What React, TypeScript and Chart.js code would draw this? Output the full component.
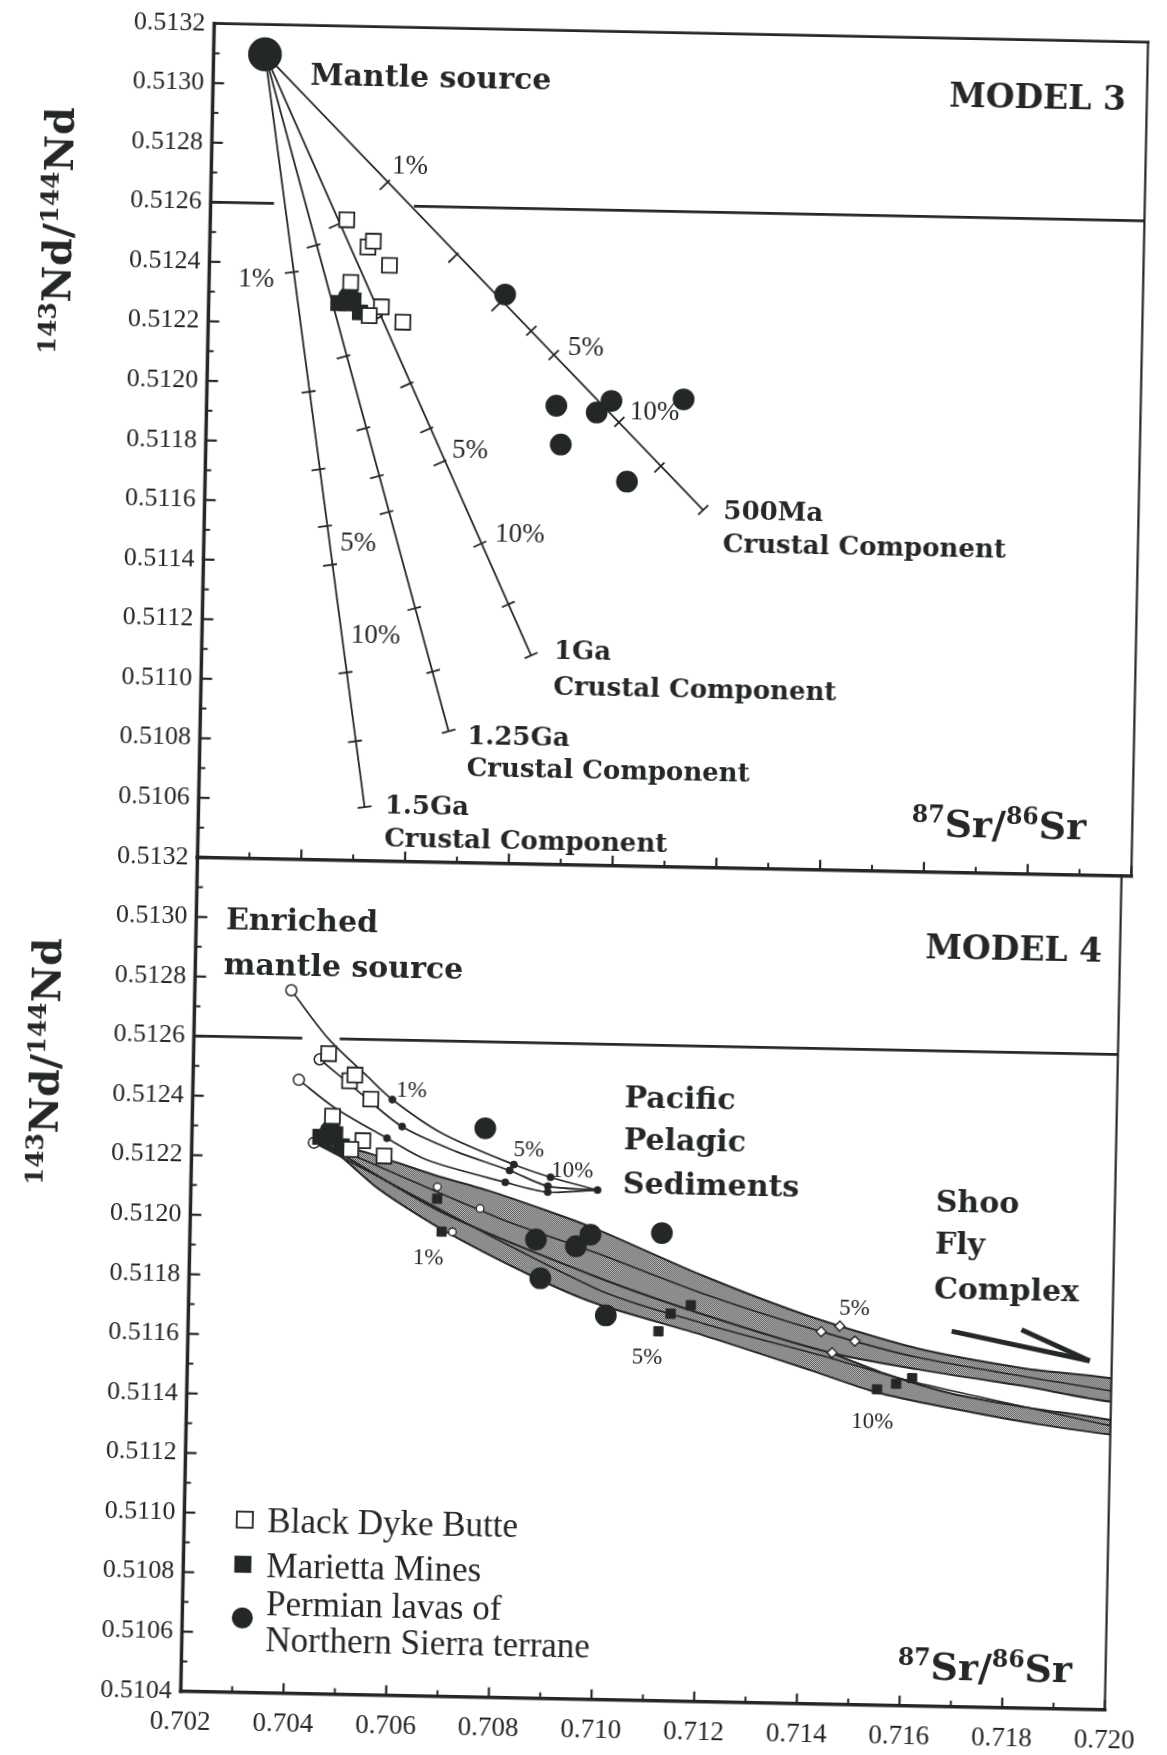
import React, { useEffect, useRef } from 'react';
import { Chart, registerables } from 'chart.js';

Chart.register(...registerables);

const INK = '#232726';
const SERIF = '"Liberation Serif", "Times New Roman", serif';
const BOLD_SERIF = '"DejaVu Serif", "Liberation Serif", serif';

// ---------------- axes ----------------
const X_MIN = 0.702;
const X_MAX = 0.72;
const X_TICKS = [0.702, 0.704, 0.706, 0.708, 0.71, 0.712, 0.714, 0.716, 0.718, 0.72];
const X_MINOR = [0.703, 0.705, 0.707, 0.709, 0.711, 0.713, 0.715, 0.717, 0.719];
const Y_MIN = 0.5104;
const Y_MAX = 0.5132;
const Y_TICKS = [0.5104, 0.5106, 0.5108, 0.511, 0.5112, 0.5114, 0.5116, 0.5118, 0.512, 0.5122, 0.5124, 0.5126, 0.5128, 0.513, 0.5132];
const Y_MINOR = [0.5105, 0.5107, 0.5109, 0.5111, 0.5113, 0.5115, 0.5117, 0.5119, 0.5121, 0.5123, 0.5125, 0.5127, 0.5129, 0.5131];

// ---------------- samples (both panels) ----------------
const BLACK_DYKE_BUTTE = [
  { x: 0.70463, y: 0.51255 }, { x: 0.70505, y: 0.51246 }, { x: 0.70515, y: 0.51248 }, { x: 0.70547, y: 0.5124 },
  { x: 0.70473, y: 0.51234 }, { x: 0.70533, y: 0.51226 }, { x: 0.7051, y: 0.51223 }, { x: 0.70575, y: 0.51221 },
];
const MARIETTA_MINES = [
  { x: 0.7045, y: 0.51227 }, { x: 0.70465, y: 0.51227 }, { x: 0.70479, y: 0.51228 }, { x: 0.70492, y: 0.51224 },
];
const PERMIAN_LAVAS = [
  { x: 0.7047, y: 0.51229 }, { x: 0.70771, y: 0.51231 }, { x: 0.70874, y: 0.51194 }, { x: 0.70884, y: 0.51181 },
  { x: 0.70952, y: 0.51192 }, { x: 0.7098, y: 0.51196 }, { x: 0.71013, y: 0.51169 }, { x: 0.71119, y: 0.51197 },
];

// ---------------- MODEL 3 (mixing lines: source, % ticks, crustal end-member) ----------------
const MANTLE_SOURCE = [{ x: 0.70299, y: 0.5131 }];
const MIX_15GA = [
  { x: 0.70299, y: 0.5131 }, { x: 0.70359, y: 0.51237 }, { x: 0.70396, y: 0.51197 }, { x: 0.70418, y: 0.51171 },
  { x: 0.70433, y: 0.51152 }, { x: 0.70444, y: 0.51139 }, { x: 0.70478, y: 0.51103 }, { x: 0.70499, y: 0.5108 },
  { x: 0.7052, y: 0.51058 },
];
const MIX_125GA = [
  { x: 0.70299, y: 0.5131 }, { x: 0.704, y: 0.51246 }, { x: 0.70462, y: 0.51209 }, { x: 0.70503, y: 0.51185 },
  { x: 0.70531, y: 0.51169 }, { x: 0.70551, y: 0.51157 }, { x: 0.70608, y: 0.51125 }, { x: 0.70647, y: 0.51104 },
  { x: 0.70679, y: 0.51084 },
];
const MIX_1GA = [
  { x: 0.70299, y: 0.5131 }, { x: 0.70441, y: 0.51253 }, { x: 0.70524, y: 0.51222 }, { x: 0.70585, y: 0.512 },
  { x: 0.70625, y: 0.51185 }, { x: 0.70652, y: 0.51174 }, { x: 0.70732, y: 0.51147 }, { x: 0.70789, y: 0.51127 },
  { x: 0.70835, y: 0.5111 },
];
const MIX_500MA = [
  { x: 0.70299, y: 0.5131 }, { x: 0.70535, y: 0.51267 }, { x: 0.7067, y: 0.51243 }, { x: 0.70755, y: 0.51227 },
  { x: 0.70823, y: 0.51219 }, { x: 0.70867, y: 0.51211 }, { x: 0.70996, y: 0.51189 }, { x: 0.71075, y: 0.51174 },
  { x: 0.71161, y: 0.5116 },
];
const TOP_REF_LEFT = [{ x: 0.702, y: 0.5126 }, { x: 0.70322, y: 0.5126 }];
const TOP_REF_RIGHT = [{ x: 0.70592, y: 0.5126 }, { x: 0.72, y: 0.5126 }];

// ---------------- MODEL 4 ----------------
const ENRICHED_STARTS = [
  { x: 0.70388, y: 0.51276 }, { x: 0.70446, y: 0.51253 }, { x: 0.70406, y: 0.51246 }, { x: 0.70438, y: 0.51225 },
];
const PPS_CURVE_1 = [
  { x: 0.70388, y: 0.51276 }, { x: 0.70462, y: 0.5126 }, { x: 0.70537, y: 0.51248 }, { x: 0.70589, y: 0.5124 },
  { x: 0.70687, y: 0.51229 }, { x: 0.70828, y: 0.51219 }, { x: 0.709, y: 0.51215 }, { x: 0.70992, y: 0.51211 },
];
const PPS_CURVE_2 = [
  { x: 0.70446, y: 0.51253 }, { x: 0.70519, y: 0.51243 }, { x: 0.70609, y: 0.51231 }, { x: 0.70715, y: 0.51223 },
  { x: 0.7082, y: 0.51217 }, { x: 0.70895, y: 0.51212 }, { x: 0.70992, y: 0.51211 },
];
const PPS_CURVE_3 = [
  { x: 0.70406, y: 0.51246 }, { x: 0.70476, y: 0.51237 }, { x: 0.7058, y: 0.51227 }, { x: 0.70658, y: 0.5122 },
  { x: 0.70812, y: 0.51213 }, { x: 0.70895, y: 0.5121 }, { x: 0.70992, y: 0.51211 },
];
const PPS_MARKS = [
  { x: 0.70589, y: 0.5124 }, { x: 0.70609, y: 0.51231 }, { x: 0.7058, y: 0.51227 }, { x: 0.70828, y: 0.51219 },
  { x: 0.7082, y: 0.51217 }, { x: 0.70812, y: 0.51213 }, { x: 0.709, y: 0.51215 }, { x: 0.70895, y: 0.51212 },
  { x: 0.70895, y: 0.5121 }, { x: 0.70992, y: 0.51211 },
];
const SFC_BAND_UPPER = [
  { x: 0.70445, y: 0.51226 }, { x: 0.70542, y: 0.51222 }, { x: 0.70673, y: 0.51215 }, { x: 0.70781, y: 0.5121 },
  { x: 0.7089, y: 0.51204 }, { x: 0.7099, y: 0.51198 }, { x: 0.712, y: 0.51183 }, { x: 0.71411, y: 0.5117 },
  { x: 0.71621, y: 0.5116 }, { x: 0.71831, y: 0.51154 }, { x: 0.7204, y: 0.5115 },
  { x: 0.7204, y: 0.51143 }, { x: 0.71832, y: 0.51148 }, { x: 0.71622, y: 0.51153 }, { x: 0.71451, y: 0.51158 },
  { x: 0.71202, y: 0.5117 }, { x: 0.70991, y: 0.51182 }, { x: 0.70696, y: 0.51202 }, { x: 0.70445, y: 0.51226 },
];
const SFC_BAND_LOWER = [
  { x: 0.70438, y: 0.51225 }, { x: 0.7076, y: 0.51202 }, { x: 0.70991, y: 0.51184 }, { x: 0.71202, y: 0.51172 },
  { x: 0.71451, y: 0.51158 }, { x: 0.71564, y: 0.51151 }, { x: 0.71692, y: 0.51145 }, { x: 0.71833, y: 0.51141 },
  { x: 0.7204, y: 0.51136 },
  { x: 0.7204, y: 0.51132 }, { x: 0.71834, y: 0.51136 }, { x: 0.71693, y: 0.5114 }, { x: 0.71543, y: 0.51145 },
  { x: 0.71413, y: 0.51152 }, { x: 0.71203, y: 0.51163 }, { x: 0.70992, y: 0.51173 }, { x: 0.70864, y: 0.51182 },
  { x: 0.70688, y: 0.51197 }, { x: 0.70565, y: 0.5121 }, { x: 0.70473, y: 0.51223 }, { x: 0.70438, y: 0.51225 },
];
const SFC_LINE_1 = [
  { x: 0.70445, y: 0.51226 }, { x: 0.708, y: 0.51201 }, { x: 0.70991, y: 0.5119 }, { x: 0.71201, y: 0.51177 },
  { x: 0.71433, y: 0.51165 }, { x: 0.71622, y: 0.51157 }, { x: 0.7204, y: 0.51146 },
];
const SFC_LINE_2 = [
  { x: 0.70438, y: 0.51225 }, { x: 0.70992, y: 0.51178 }, { x: 0.71202, y: 0.51167 }, { x: 0.71456, y: 0.51156 },
  { x: 0.71608, y: 0.51149 }, { x: 0.7204, y: 0.51134 },
];
const SFC_SQUARES = [
  { x: 0.7068, y: 0.51207 }, { x: 0.7069, y: 0.51196 }, { x: 0.71116, y: 0.51164 }, { x: 0.71139, y: 0.5117 },
  { x: 0.71178, y: 0.51173 }, { x: 0.71544, y: 0.51146 }, { x: 0.71581, y: 0.51148 }, { x: 0.71612, y: 0.5115 },
];
const SFC_DIAMONDS = [
  { x: 0.71433, y: 0.51165 }, { x: 0.71469, y: 0.51167 }, { x: 0.71499, y: 0.51162 }, { x: 0.71455, y: 0.51158 },
];
const SFC_OPEN_DOTS = [
  { x: 0.7068, y: 0.51211 }, { x: 0.70764, y: 0.51204 }, { x: 0.70711, y: 0.51196 },
];
const BOT_REF_LEFT = [{ x: 0.702, y: 0.5126 }, { x: 0.70411, y: 0.5126 }];
const BOT_REF_RIGHT = [{ x: 0.70484, y: 0.5126 }, { x: 0.72, y: 0.5126 }];
const SHOO_FLY_ARROW = [{ x: 0.71687, y: 0.51166 }, { x: 0.71957, y: 0.51157 }];
const SHOO_FLY_BARB = [{ x: 0.71823, y: 0.51167 }, { x: 0.71957, y: 0.51157 }];

// ---------------- text ----------------
const AXIS_X_TITLE = [{ t: '87', sup: true }, { t: 'Sr/' }, { t: '86', sup: true }, { t: 'Sr' }];
const AXIS_Y_TITLE = [{ t: '143', sup: true }, { t: 'Nd/' }, { t: '144', sup: true }, { t: 'Nd' }];

const TOP_LABELS = [
  { text: 'Mantle source', x: 0.70387, y: 0.513, size: 30, bold: true },
  { text: 'MODEL 3', x: 0.71619, y: 0.51297, size: 33, bold: true },
  { text: '1%', x: 0.70548, y: 0.51271, size: 27 },
  { text: '1%', x: 0.70256, y: 0.51232, size: 27 },
  { text: '5%', x: 0.70894, y: 0.51211, size: 27 },
  { text: '10%', x: 0.71016, y: 0.5119, size: 27 },
  { text: '5%', x: 0.70675, y: 0.51176, size: 27 },
  { text: '10%', x: 0.70761, y: 0.51148, size: 27 },
  { text: '5%', x: 0.70463, y: 0.51144, size: 27 },
  { text: '10%', x: 0.70487, y: 0.51113, size: 27 },
  { text: '500Ma', x: 0.712, y: 0.51157, size: 26, bold: true },
  { text: 'Crustal Component', x: 0.712, y: 0.51146, size: 26, bold: true },
  { text: '1Ga', x: 0.70879, y: 0.51109, size: 26, bold: true },
  { text: 'Crustal Component', x: 0.70879, y: 0.51097, size: 26, bold: true },
  { text: '1.25Ga', x: 0.70715, y: 0.5108, size: 26, bold: true },
  { text: 'Crustal Component', x: 0.70715, y: 0.51069, size: 26, bold: true },
  { text: '1.5Ga', x: 0.70559, y: 0.51056, size: 26, bold: true },
  { text: 'Crustal Component', x: 0.70559, y: 0.51045, size: 26, bold: true },
];
const BOTTOM_LABELS = [
  { text: 'Enriched', x: 0.70258, y: 0.51296, size: 30, bold: true },
  { text: 'mantle source', x: 0.70255, y: 0.51281, size: 30, bold: true },
  { text: 'MODEL 4', x: 0.71621, y: 0.51291, size: 33, bold: true },
  { text: 'Pacific', x: 0.71041, y: 0.51239, size: 30, bold: true },
  { text: 'Pelagic', x: 0.71041, y: 0.51225, size: 30, bold: true },
  { text: 'Sediments', x: 0.71041, y: 0.5121, size: 30, bold: true },
  { text: 'Shoo', x: 0.71651, y: 0.51206, size: 30, bold: true },
  { text: 'Fly', x: 0.71651, y: 0.51192, size: 30, bold: true },
  { text: 'Complex', x: 0.71651, y: 0.51177, size: 30, bold: true },
  { text: '1%', x: 0.70596, y: 0.51241, size: 23 },
  { text: '5%', x: 0.70827, y: 0.51222, size: 23 },
  { text: '10%', x: 0.70901, y: 0.51215, size: 23 },
  { text: '1%', x: 0.70635, y: 0.51185, size: 23 },
  { text: '5%', x: 0.71065, y: 0.51153, size: 23 },
  { text: '5%', x: 0.71467, y: 0.51171, size: 23 },
  { text: '10%', x: 0.71495, y: 0.51133, size: 23 },
];
const LEGEND_MARKERS = [
  { kind: 'openSquare', x: 0.70318, y: 0.51098 },
  { kind: 'filledSquare', x: 0.70316, y: 0.51083 },
  { kind: 'circle', x: 0.70317, y: 0.51065 },
];
const LEGEND_TEXT = [
  { text: 'Black Dyke Butte', x: 0.70362, y: 0.51094 },
  { text: 'Marietta Mines', x: 0.70362, y: 0.51079 },
  { text: 'Permian lavas of', x: 0.70363, y: 0.51066 },
  { text: 'Northern Sierra terrane', x: 0.70363, y: 0.51054 },
];

// ---------------- helpers ----------------
function makeHatch(): any {
  const c = document.createElement('canvas');
  c.width = 2;
  c.height = 2;
  const g = c.getContext('2d');
  if (!g) return '#999';
  g.fillStyle = '#c2c2c2';
  g.fillRect(0, 0, 2, 2);
  g.fillStyle = '#565656';
  g.fillRect(0, 0, 1, 1);
  g.fillRect(1, 1, 1, 1);
  return g.createPattern(c, 'repeat') || '#999';
}

const perpRotation = (c: any) => {
  const d = c.dataset && c.dataset.data;
  const xs = c.chart.scales.x;
  const ys = c.chart.scales.y;
  if (!xs || !ys || !d || d.length < 2) return 0;
  const a = d[0];
  const b = d[d.length - 1];
  const dx = xs.getPixelForValue(b.x) - xs.getPixelForValue(a.x);
  const dy = ys.getPixelForValue(b.y) - ys.getPixelForValue(a.y);
  return (Math.atan2(dy, dx) * 180) / Math.PI + 90;
};

function drawRich(ctx: any, parts: any[], x: number, y: number, size: number) {
  let cx = x;
  for (const p of parts) {
    const s = p.sup ? size * 0.62 : size;
    ctx.font = `bold ${s}px ${BOLD_SERIF}`;
    ctx.fillText(p.t, cx, p.sup ? y - size * 0.36 : y);
    cx += ctx.measureText(p.t).width;
  }
  return cx - x;
}
function richWidth(ctx: any, parts: any[], size: number) {
  let w = 0;
  for (const p of parts) {
    const s = p.sup ? size * 0.62 : size;
    ctx.font = `bold ${s}px ${BOLD_SERIF}`;
    w += ctx.measureText(p.t).width;
  }
  return w;
}

function makePlugin(panel: 'top' | 'bottom', yTitleCenter: { x: number; y: number }) {
  return {
    id: 'deco-' + panel,
    afterDatasetsDraw(chart: any) {
      const { ctx, chartArea: a, scales } = chart;
      const xs = scales.x;
      const ys = scales.y;
      const px = (v: number) => xs.getPixelForValue(v);
      const py = (v: number) => ys.getPixelForValue(v);
      ctx.save();
      ctx.strokeStyle = INK;
      ctx.fillStyle = INK;
      const seg = (x1: number, y1: number, x2: number, y2: number, w: number) => {
        ctx.lineWidth = w;
        ctx.beginPath();
        ctx.moveTo(x1, y1);
        ctx.lineTo(x2, y2);
        ctx.stroke();
      };
      // frame
      ctx.lineCap = 'square';
      seg(a.left, a.top, a.left, a.bottom, 3.5);
      seg(a.left, a.bottom, a.right, a.bottom, 3.5);
      seg(a.right, a.top, a.right, a.bottom, 2.2);
      if (panel === 'top') seg(a.left, a.top, a.right, a.top, 2.8);
      ctx.lineCap = 'butt';
      for (const v of Y_TICKS) seg(a.left, py(v), a.left + 11, py(v), 2.2);
      for (const v of Y_MINOR) seg(a.left, py(v), a.left + 6, py(v), 2);
      for (const v of X_TICKS) seg(px(v), a.bottom, px(v), a.bottom - 10, 2.2);
      for (const v of X_MINOR) seg(px(v), a.bottom, px(v), a.bottom - 6, 2);

      // labels
      ctx.textBaseline = 'alphabetic';
      ctx.textAlign = 'left';
      const labels = panel === 'top' ? TOP_LABELS : BOTTOM_LABELS;
      for (const l of labels) {
        ctx.font = l.bold ? `bold ${l.size}px ${BOLD_SERIF}` : `${l.size}px ${SERIF}`;
        ctx.fillText(l.text, px(l.x), py(l.y));
      }
      // x axis title
      if (panel === 'top') drawRich(ctx, AXIS_X_TITLE, px(0.71575), py(0.51052), 38);
      else drawRich(ctx, AXIS_X_TITLE, px(0.71595), py(0.51049), 38);

      // legend
      if (panel === 'bottom') {
        for (const m of LEGEND_MARKERS) {
          const cx = px(m.x);
          const cy = py(m.y);
          if (m.kind === 'openSquare') {
            ctx.fillStyle = '#fff';
            ctx.fillRect(cx - 8, cy - 8, 16, 16);
            ctx.lineWidth = 1.8;
            ctx.strokeRect(cx - 8, cy - 8, 16, 16);
            ctx.fillStyle = INK;
          } else if (m.kind === 'filledSquare') {
            ctx.fillRect(cx - 8.5, cy - 8.5, 17, 17);
          } else {
            ctx.beginPath();
            ctx.arc(cx, cy, 10.5, 0, Math.PI * 2);
            ctx.fill();
          }
        }
        ctx.font = `35px ${SERIF}`;
        for (const t of LEGEND_TEXT) ctx.fillText(t.text, px(t.x), py(t.y));
      }

      // y axis title (rotated)
      ctx.save();
      ctx.translate(yTitleCenter.x, yTitleCenter.y);
      ctx.rotate(-Math.PI / 2);
      const w = richWidth(ctx, AXIS_Y_TITLE, 40);
      drawRich(ctx, AXIS_Y_TITLE, -w / 2, 14, 40);
      ctx.restore();
      ctx.restore();
    },
  };
}

function lineDs(data: any[], width = 1.8, tension = 0, order = 2) {
  return {
    type: 'line',
    data,
    showLine: true,
    fill: false,
    borderColor: INK,
    borderWidth: width,
    tension,
    pointRadius: 0,
    order,
  };
}
// straight mixing line drawn from source to end-member, percent ticks as perpendicular bars
function mixLineDs(data: any[]) {
  return lineDs([data[0], data[data.length - 1]], 1.8, 0, 2);
}
function mixTicksDs(data: any[]) {
  return {
    type: 'line',
    data,
    showLine: false,
    pointStyle: 'line',
    pointRadius: (c: any) => (c.dataIndex === 0 ? 0 : 7),
    pointBorderColor: INK,
    pointBorderWidth: 1.8,
    pointRotation: perpRotation,
    order: 2,
  };
}
function pointsDs(data: any[], style: string, radius: number, fillColor: string, order = 0, bw = 1.8) {
  return {
    type: 'line',
    data,
    showLine: false,
    pointStyle: style,
    pointRadius: radius,
    pointBackgroundColor: fillColor,
    pointBorderColor: INK,
    pointBorderWidth: bw,
    order,
  };
}
function bandDs(data: any[], hatch: any) {
  return {
    type: 'line',
    data,
    showLine: true,
    fill: 'shape',
    backgroundColor: hatch,
    borderColor: INK,
    borderWidth: 2,
    tension: 0.25,
    pointRadius: 0,
    order: 5,
  };
}

function sampleDatasets() {
  return [
    pointsDs(BLACK_DYKE_BUTTE, 'rect', 10.5, '#fff', 0),
    pointsDs(MARIETTA_MINES, 'rect', 10, INK, 0),
    pointsDs(PERMIAN_LAVAS, 'circle', 10, INK, 0),
  ];
}

function buildConfig(panel: 'top' | 'bottom', hatch: any): any {
  const top = panel === 'top';
  const datasets: any[] = [];
  if (top) {
    datasets.push(lineDs(TOP_REF_LEFT, 2.6), lineDs(TOP_REF_RIGHT, 2.6));
    for (const mix of [MIX_15GA, MIX_125GA, MIX_1GA, MIX_500MA]) {
      datasets.push(mixLineDs(mix), mixTicksDs(mix));
    }
    datasets.push(pointsDs(MANTLE_SOURCE, 'circle', 16, INK, 0));
    datasets.push(...sampleDatasets());
  } else {
    datasets.push(lineDs(BOT_REF_LEFT, 2.6), lineDs(BOT_REF_RIGHT, 2.6));
    datasets.push(bandDs(SFC_BAND_UPPER, hatch), bandDs(SFC_BAND_LOWER, hatch));
    datasets.push(lineDs(SFC_LINE_1, 1.6, 0.3, 4), lineDs(SFC_LINE_2, 1.6, 0.3, 4));
    datasets.push(lineDs(PPS_CURVE_1, 1.7, 0.3, 3), lineDs(PPS_CURVE_2, 1.7, 0.3, 3), lineDs(PPS_CURVE_3, 1.7, 0.3, 3));
    datasets.push(lineDs(SHOO_FLY_ARROW, 5, 0, 2), lineDs(SHOO_FLY_BARB, 5, 0, 2));
    datasets.push(pointsDs(ENRICHED_STARTS, 'circle', 5.5, '#fff', 1, 1.5));
    datasets.push(pointsDs(PPS_MARKS, 'circle', 3.5, INK, 1, 1));
    datasets.push(pointsDs(SFC_SQUARES, 'rect', 6.5, INK, 1, 1));
    datasets.push(pointsDs(SFC_DIAMONDS, 'rectRot', 5, '#fff', 1, 1.4));
    datasets.push(pointsDs(SFC_OPEN_DOTS, 'circle', 3.8, '#fff', 1, 1.3));
    datasets.push(...sampleDatasets());
  }
  const height = top ? 900 : 935;
  return {
    type: 'line',
    data: { datasets },
    options: {
      responsive: false,
      animation: false,
      devicePixelRatio: 1,
      events: [],
      layout: {
        padding: top
          ? { left: 0, right: 35.6, top: 32.7, bottom: height - 866.7 }
          : { left: 0, right: 35.6, top: 46.7, bottom: 0 },
      },
      plugins: { legend: { display: false }, tooltip: { enabled: false } },
      scales: {
        x: {
          type: 'linear',
          min: X_MIN,
          max: X_MAX,
          display: !top,
          afterBuildTicks: (s: any) => {
            s.ticks = X_TICKS.map((value) => ({ value }));
          },
          afterFit: (s: any) => {
            s.height = top ? 0 : 54.3;
          },
          grid: { display: false, drawTicks: false },
          border: { display: false },
          ticks: {
            autoSkip: false,
            maxRotation: 0,
            padding: 15,
            color: INK,
            font: { family: SERIF, size: 27 },
            callback: (v: any) => Number(v).toFixed(3),
          },
        },
        y: {
          type: 'linear',
          min: Y_MIN,
          max: Y_MAX,
          afterBuildTicks: (s: any) => {
            s.ticks = Y_TICKS.map((value) => ({ value }));
          },
          afterFit: (s: any) => {
            s.width = 197.4;
          },
          grid: { display: false, drawTicks: false },
          border: { display: false },
          ticks: {
            autoSkip: false,
            padding: 9,
            color: INK,
            font: { family: SERIF, size: 26 },
            callback: (v: any) => (top && Math.abs(Number(v) - Y_MIN) < 1e-9 ? '' : Number(v).toFixed(4)),
          },
        },
      },
    },
    plugins: [makePlugin(panel, top ? { x: 45, y: 243 } : { x: 49, y: 254 })],
  };
}

export default function App() {
  const topRef = useRef<HTMLCanvasElement>(null);
  const botRef = useRef<HTMLCanvasElement>(null);
  useEffect(() => {
    const hatch = makeHatch();
    const c1 = new Chart(topRef.current as HTMLCanvasElement, buildConfig('top', hatch));
    const c2 = new Chart(botRef.current as HTMLCanvasElement, buildConfig('bottom', hatch));
    return () => {
      c1.destroy();
      c2.destroy();
    };
  }, []);
  return (
    <div style={{ position: 'absolute', left: 0, top: 0, width: 1167, height: 1755, overflow: 'hidden', background: '#fff' }}>
      <div
        style={{
          position: 'absolute',
          left: 0,
          top: 0,
          width: 1167,
          height: 1755,
          transform: 'rotate(1.15deg)',
          transformOrigin: '664.4px 866.7px',
        }}
      >
        <canvas ref={topRef} width={1167} height={900} style={{ position: 'absolute', left: 0, top: 0, width: 1167, height: 900 }} />
        <canvas ref={botRef} width={1167} height={935} style={{ position: 'absolute', left: 0, top: 820, width: 1167, height: 935 }} />
      </div>
    </div>
  );
}
